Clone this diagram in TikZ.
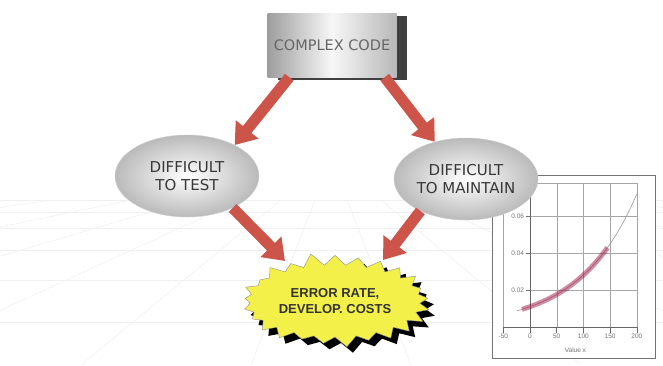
\documentclass[tikz,border=0pt]{standalone}
\usepackage{fontspec}
\setmainfont{Liberation Sans}
\newfontfamily\comicfont{DejaVu Sans}
\usetikzlibrary{arrows.meta,shapes,shadows}
\definecolor{arrowred}{RGB}{204,84,72}
\definecolor{burstyellow}{RGB}{244,240,74}
\tikzstyle{redarrow} = [draw, line width=11pt, color=arrowred, -{Triangle[width=28pt,length=20pt]}]
\tikzstyle{bubble} = [ellipse, draw=black!20, shade, inner color=white, outer color=black!27, minimum width=144pt, minimum height=82pt, inner sep=0pt, align=center, text=black!78, font=\comicfont\fontsize{15}{18}\selectfont]
\tikzstyle{codebox} = [rectangle, left color=black!38, right color=black!28, middle color=black!3, minimum width=129pt, minimum height=64pt, text=black!60, font=\comicfont\fontsize{14.5}{17}\selectfont, drop shadow={shadow xshift=10pt, shadow yshift=-3pt, fill=black!75, opacity=1}]
\tikzstyle{burst} = [starburst, fill=burstyellow, draw=black!45, line width=0.4pt, starburst points=25, starburst point height=13pt, random starburst=11, minimum width=196pt, minimum height=98pt, inner sep=0pt, align=center, text=black!80, font=\bfseries\fontsize{13}{15.5}\selectfont, drop shadow={shadow xshift=6pt, shadow yshift=-6pt, fill=black, opacity=1}]
\tikzstyle{floorline} = [black!6, line width=0.6pt]
\tikzstyle{gridline} = [black!35, line width=0.4pt]
\tikzstyle{ticklabel} = [text=black!55, font=\fontsize{6.5}{7}\selectfont, inner sep=1pt]

\begin{document}
\begin{tikzpicture}[x=1pt,y=-1pt]
\useasboundingbox (0,0) rectangle (663,365);

% floor
\foreach \y in {200,212,228,250,280,322} \draw[floorline] (0,\y) -- (663,\y);
\foreach \x in {-1400,-1000,-700,-450,-250,-80,80,250,450,700,1000,1400} \draw[floorline] (331+0.2*\x,200) -- (331+\x,365);

% chart
\draw[black!55, fill=white] (492,175) rectangle (655,358);
\begin{scope}[shift={(530,327)}, xscale=0.534, yscale=-1850]
\draw[gridline] (-50,0) -- (-50,0.078);
\foreach \v in {50,100,150,200} \draw[gridline] (\v,0) -- (\v,0.078);
\foreach \w/\l in {0.02/0.02,0.04/0.04,0.06/0.06} {
  \draw[gridline] (0,\w) -- (200,\w);
  \draw[black!55, line width=0.5pt] (-8,\w) -- (0,\w);
  \node[ticklabel, anchor=east] at (-9,\w) {\l};
}
\draw[gridline] (0,0.078) -- (200,0.078);
\draw[black!60, line width=0.6pt] (-50,0) -- (200,0);
\draw[black!60, line width=0.6pt] (0,0) -- (0,0.078);
\foreach \v in {-50,0,50,100,150,200} {
  \draw[black!60, line width=0.5pt] (\v,0) -- (\v,-0.003);
  \node[ticklabel, anchor=north] at (\v,-0.003) {\v};
}
\node[ticklabel] at (85,-0.0125) {Value x};
\draw[black!40, line width=0.6pt, domain=-25:200, samples=40] plot (\x, {0.011*exp(0.00939*\x)});
\draw[purple!80!black, opacity=0.45, line width=5pt, domain=-15:145, samples=30] plot (\x, {0.011*exp(0.00939*\x)});
\end{scope}

\node[codebox] (cc) at (332,45) {COMPLEX CODE};
\node[bubble] (dt) at (187,176) {DIFFICULT\\TO TEST};
\node[bubble] (dm) at (466,179) {DIFFICULT\\TO MAINTAIN};
\node[burst] (err) at (335,301) {ERROR RATE,\\DEVELOP. COSTS};

\draw[redarrow] ([xshift=22pt]cc.south west) -- (dt.33);
\draw[redarrow] ([xshift=-12pt]cc.south east) -- (dm.130);
\draw[redarrow] (dt.-35) -- ([shift={(-50,-40)}]err.center);
\draw[redarrow] (dm.-145) -- ([shift={(48,-41)}]err.center);

\end{tikzpicture}
\end{document}
